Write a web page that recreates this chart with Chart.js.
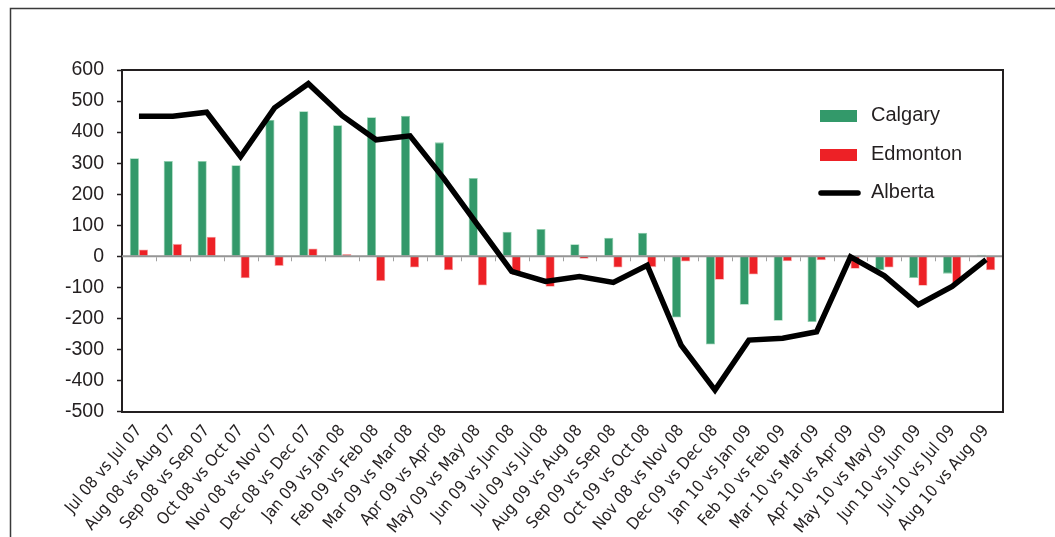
<!DOCTYPE html>
<html>
<head>
<meta charset="utf-8">
<script src="https://cdn.jsdelivr.net/npm/chart.js@4"></script>
<style>
  html, body { margin: 0; padding: 0; background: #ffffff; }
  #wrap { width: 1055px; height: 537px; position: relative; }
</style>
</head>
<body>
<div id="wrap"><canvas id="chart" width="1055" height="537"></canvas></div>
<script>
// Year-over-year change, monthly comparisons
const categories = [
  'Jul 08 vs Jul 07', 'Aug 08 vs Aug 07', 'Sep 08 vs Sep 07', 'Oct 08 vs Oct 07',
  'Nov 08 vs Nov 07', 'Dec 08 vs Dec 07', 'Jan 09 vs Jan 08', 'Feb 09 vs Feb 08',
  'Mar 09 vs Mar 08', 'Apr 09 vs Apr 08', 'May 09 vs May 08', 'Jun 09 vs Jun 08',
  'Jul 09 vs Jul 08', 'Aug 09 vs Aug 08', 'Sep 09 vs Sep 08', 'Oct 09 vs Oct 08',
  'Nov 08 vs Nov 08', 'Dec 09 vs Dec 08', 'Jan 10 vs Jan 09', 'Feb 10 vs Feb 09',
  'Mar 10 vs Mar 09', 'Apr 10 vs Apr 09', 'May 10 vs May 09', 'Jun 10 vs Jun 09',
  'Jul 10 vs Jul 09', 'Aug 10 vs Aug 09'
];

const calgary = [316, 307, 307, 293, 440, 467, 422, 448, 453, 367, 252, 79, 88,
                 39, 60, 76, -197, -284, -156, -208, -212, -3, -45, -70, -56, 5];

const edmonton = [22, 40, 63, -71, -31, 25, 7, -80, -36, -45, -94, -60, -98,
                  -8, -36, -35, -17, -76, -59, -16, -13, -40, -36, -95, -86, -45];

const alberta = [451, 451, 464, 321, 478, 556, 453, 375, 388, 250, 100, -49, -81,
                 -65, -84, -29, -286, -431, -270, -264, -243, -2, -63, -156, -97, -11];

const yMin = -500, yMax = 600, yStep = 100;

const GREEN = '#33996a';
const RED = '#ed2126';
const INK = '#231f20';

// Outer frame, plot box, zero line with category ticks, and legend
const decorations = {
  id: 'decorations',
  beforeDraw(chart) {
    const ctx = chart.ctx;
    ctx.save();
    ctx.strokeStyle = '#3a3a3a';
    ctx.lineWidth = 1.5;
    ctx.beginPath();
    ctx.moveTo(10.5, 537);
    ctx.lineTo(10.5, 8.5);
    ctx.lineTo(1055, 8.5);
    ctx.stroke();
    ctx.restore();
  },
  beforeDatasetDraw(chart, args) {
    if (chart.data.datasets[args.index].type !== 'line') return;
    const ctx = chart.ctx;
    const { left, right } = chart.chartArea;
    const x = chart.scales.x, y = chart.scales.y;
    const y0 = y.getPixelForValue(0);
    ctx.save();
    ctx.strokeStyle = '#959595';
    ctx.lineWidth = 2;
    ctx.beginPath();
    ctx.moveTo(left, y0);
    ctx.lineTo(right, y0);
    ctx.stroke();
    ctx.lineWidth = 1;
    ctx.strokeStyle = '#a0a0a0';
    for (let i = 0; i < categories.length - 1; i++) {
      const xb = Math.round((x.getPixelForValue(i) + x.getPixelForValue(i + 1)) / 2) + 0.5;
      ctx.beginPath();
      ctx.moveTo(xb, y0 + 1);
      ctx.lineTo(xb, y0 + 5);
      ctx.stroke();
    }
    ctx.restore();
  },
  afterDraw(chart) {
    const ctx = chart.ctx;
    const { top, right } = chart.chartArea;
    ctx.save();
    // top and right sides of the plot box
    ctx.strokeStyle = INK;
    ctx.lineWidth = 2;
    ctx.beginPath();
    ctx.moveTo(chart.chartArea.left, top);
    ctx.lineTo(right, top);
    ctx.lineTo(right, chart.chartArea.bottom);
    ctx.stroke();

    // legend
    const sx = right - 183;
    const tx = right - 132;
    ctx.font = '20px "Liberation Sans", Arial, sans-serif';
    ctx.fillStyle = INK;
    ctx.textBaseline = 'alphabetic';
    const items = [
      { label: chart.data.datasets[1].label, kind: 'bar', color: GREEN, base: top + 51 },
      { label: chart.data.datasets[2].label, kind: 'bar', color: RED, base: top + 90 },
      { label: chart.data.datasets[0].label, kind: 'line', color: '#000', base: top + 128 }
    ];
    items.forEach(it => {
      if (it.kind === 'bar') {
        ctx.fillStyle = it.color;
        ctx.fillRect(sx, it.base - 11, 37, 12);
      } else {
        ctx.strokeStyle = it.color;
        ctx.lineWidth = 5.5;
        ctx.lineCap = 'round';
        ctx.beginPath();
        ctx.moveTo(sx + 1, it.base - 5);
        ctx.lineTo(sx + 38, it.base - 5);
        ctx.stroke();
      }
      ctx.fillStyle = INK;
      ctx.fillText(it.label, tx, it.base);
    });
    ctx.restore();
  }
};

new Chart(document.getElementById('chart'), {
  data: {
    labels: categories,
    datasets: [
      {
        type: 'line', label: 'Alberta', data: alberta, order: 0,
        borderColor: '#000000', borderWidth: 5.5, pointRadius: 0,
        tension: 0, fill: false, borderJoinStyle: 'miter'
      },
      {
        type: 'bar', label: 'Calgary', data: calgary, order: 1,
        backgroundColor: GREEN, borderColor: '#8fcfad', borderWidth: 0.8,
        categoryPercentage: 0.54, barPercentage: 1
      },
      {
        type: 'bar', label: 'Edmonton', data: edmonton, order: 2,
        backgroundColor: RED, borderColor: '#f5a0a0', borderWidth: 0.8,
        categoryPercentage: 0.54, barPercentage: 1
      }
    ]
  },
  options: {
    responsive: false,
    animation: false,
    layout: { padding: { top: 70, right: 52, left: 0, bottom: 0 } },
    plugins: {
      legend: { display: false },
      tooltip: { enabled: false }
    },
    scales: {
      x: {
        grid: { display: false },
        border: { display: true, color: INK, width: 2 },
        ticks: {
          autoSkip: false, minRotation: 50, maxRotation: 50,
          color: INK, padding: 2,
          font: { family: '"DejaVu Sans Condensed", "Liberation Sans", Arial, sans-serif', size: 16.5 }
        },
        afterFit(scale) { scale.height = 125.5; }
      },
      y: {
        min: yMin, max: yMax,
        grid: { drawOnChartArea: false, drawTicks: true, tickLength: 5, tickColor: INK, tickWidth: 1.5 },
        border: { display: true, color: INK, width: 2 },
        ticks: {
          stepSize: yStep, color: INK, padding: 13,
          font: { family: '"Liberation Sans", Arial, sans-serif', size: 19.5 }
        },
        afterFit(scale) { scale.width = 122; }
      }
    }
  },
  plugins: [decorations]
});
</script>
</body>
</html>
